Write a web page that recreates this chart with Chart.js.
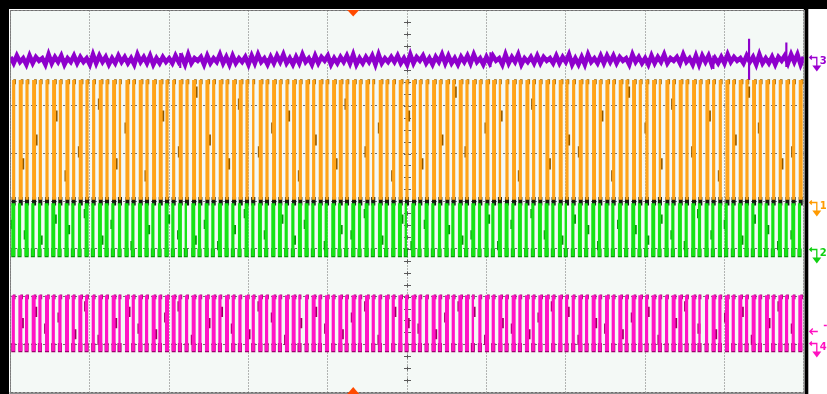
<!DOCTYPE html>
<html><head><meta charset="utf-8">
<script src="https://cdn.jsdelivr.net/npm/chart.js@4.4.1/dist/chart.umd.min.js"></script>
<style>html,body{margin:0;padding:0;background:#fff;overflow:hidden}
#wrap{position:relative;width:827px;height:394px}</style></head>
<body><div id="wrap"><canvas id="c" width="827" height="394"></canvas></div>
<script>
// Oscilloscope screen: 10 horizontal x 8 vertical divisions
const X_RANGE = [0, 10];
const Y_RANGE = [0, 8];

// Channel 3 (purple) noisy trace, digit d -> CH3_CENTER + (d-4.5)*CH3_SPAN (divisions)
const CH3_CENTER = 6.96, CH3_SPAN = 0.026;
const CH3_NOISE =
 "7283618274" + "6192738163" + "8273619283" + "7162837261" + "9372816273" +
 "6283719264" + "7182639271" + "8263718293" + "6172839261" + "7293618274" +
 "8162738291" + "6273819263" + "7382619274" + "8261739282" + "6173829361" +
 "7284619273" + "9163728274" + "6282739161" + "7193628283" + "8274619372" +
 "6182739264" + "7293618183" + "8162729374" + "6283719262" + "7174829391" + "7";
// Channel 3 glitches: [time, low, high]
const CH3_SPIKES = [[9.31, 6.55, 7.40], [8.86, 6.78, 7.05], [9.78, 6.82, 7.32], [6.05, 6.82, 7.12], [2.14, 6.80, 7.10]];

// Pulse trains: low/high level (divisions), phase (div), high width per pulse (digit x 0.01 div)
const CH1_LEVELS = [4.03, 6.54], CH1_PHASE = 0.02;
const CH1_WIDTH =
 "4545445454" + "5445453545" + "4554454545" + "4545543545" + "4454545455" + "4545354454" +
 "5445454545" + "4553454544" + "5454454545" + "4545445354" + "5454544545" + "454544545";
const CH1_MARKS =
 "0305007020" + "4008030600" + "2070040905" + "0030800406" + "0702050030" + "8004060207" +
 "0300509040" + "0607002080" + "3005040070" + "2090060308" + "0040702050" + "906003040";

const CH2_LEVELS = [2.85, 3.96], CH2_PHASE = 0.01;
const CH2_WIDTH =
 "5454455454" + "4545544545" + "5445453545" + "4554454545" + "5445545454" + "4545454553" +
 "5454454545" + "4545545445" + "5453454545" + "4545445454" + "5454545445" + "545445454";
const CH2_MARKS =
 "6040307050" + "0803060020" + "5007040306" + "0205080040" + "7030600205" + "0408030070" +
 "2060050304" + "0702060080" + "4030705020" + "0605030704" + "0208040603" + "070502040";

const CH4_LEVELS = [0.86, 2.03], CH4_PHASE = 0.015;
const CH4_WIDTH =
 "4545454454" + "5445453545" + "4545544545" + "5454454545" + "4553454545" + "4545445454" +
 "5445454553" + "4545454545" + "5454454545" + "4545545445" + "5453454545" + "454545445";
const CH4_MARKS =
 "0507040603" + "0802050704" + "0306080205" + "0704030806" + "0205070403" + "0608020705" +
 "0403060807" + "0205040306" + "0807020504" + "0306070205" + "0804030607" + "020508040";

// Right-edge channel reference markers (division level), trigger time
const MARKERS = [
  {label: "3", level: 7.02, color: "#9b00d0"},
  {label: "1", level: 3.99, color: "#ff9a00"},
  {label: "2", level: 3.00, color: "#10d010"},
  {label: "4", level: 1.03, color: "#ff10c0"}
];
const CH4_TRIG_LEVEL = 1.28;
const TRIGGER_TIME = 4.32;

// ---------- build library data ----------
function pulseLine(widths, phase, levels) {
  const n = widths.length, period = 10 / n, lo = levels[0], hi = levels[1];
  const pts = [{x: 0, y: lo}];
  for (let k = 0; k < n; k++) {
    const t = phase + k * period, w = (+widths[k]) * 0.01;
    pts.push({x: t, y: hi}, {x: t + w, y: lo});
  }
  pts.push({x: 10, y: lo});
  return pts;
}
function pulseMarks(widths, marks, phase, levels, h) {
  const n = widths.length, period = 10 / n, lo = levels[0], hi = levels[1], out = [];
  for (let k = 0; k < n; k++) {
    const d = +marks[k]; if (!d) continue;
    const t = phase + k * period, w = (+widths[k]) * 0.01;
    const y0 = lo + (hi - lo) * d / 10;
    out.push({x: (d % 2 ? t + w : t + 0.008), y: [y0 - h / 2, y0 + h / 2]});
  }
  return out;
}
function pulseEdge(widths, phase, a, b, where) {
  const n = widths.length, period = 10 / n, out = [];
  for (let k = 0; k < n; k++) {
    const t = phase + k * period, w = (+widths[k]) * 0.01;
    out.push({x: where === 'mid' ? t + w / 2 : t + w - 0.008, y: [a, b]});
  }
  return out;
}
const ch3Pts = Array.from(CH3_NOISE, (d, i) => ({x: i * 10 / (CH3_NOISE.length - 1), y: CH3_CENTER + (+d - 4.5) * CH3_SPAN}));
const ch3Spikes = CH3_SPIKES.map(s => ({x: s[0], y: [s[1], s[2]]}));

function lineDs(data, color, lo) {
  return {type: 'line', data, stepped: true, borderColor: 'rgba(0,0,0,0)', borderWidth: 1,
    backgroundColor: color, fill: {value: lo}, pointRadius: 0, tension: 0};
}
function barDs(data, color, thick) {
  return {type: 'bar', data, backgroundColor: color, barThickness: thick, grouped: false, borderWidth: 0};
}

const datasets = [
  lineDs(pulseLine(CH4_WIDTH, CH4_PHASE, CH4_LEVELS), '#ff14c4', CH4_LEVELS[0]),
  barDs(pulseEdge(CH4_WIDTH, CH4_PHASE, 0.84, 1.02, 'mid'), '#a0006c', 3.4),
  barDs(pulseEdge(CH4_WIDTH, CH4_PHASE, 1.95, 2.04, 'top'), '#b0007a', 2),
  barDs(pulseMarks(CH4_WIDTH, CH4_MARKS, CH4_PHASE, CH4_LEVELS, 0.2), '#96005e', 2.4),

  lineDs(pulseLine(CH2_WIDTH, CH2_PHASE, CH2_LEVELS), '#16e416', CH2_LEVELS[0]),
  barDs(pulseEdge(CH2_WIDTH, CH2_PHASE, 2.83, 3.0, 'mid'), '#079507', 3.4),
  barDs(pulseMarks(CH2_WIDTH, CH2_MARKS, CH2_PHASE, CH2_LEVELS, 0.18), '#0a8a0a', 2.4),

  lineDs(pulseLine(CH1_WIDTH, CH1_PHASE, CH1_LEVELS), '#ffa31a', CH1_LEVELS[0]),
  barDs(pulseEdge(CH1_WIDTH, CH1_PHASE, 6.46, 6.55, 'top'), '#9a6200', 2),
  barDs(pulseMarks(CH1_WIDTH, CH1_MARKS, CH1_PHASE, CH1_LEVELS, 0.22), '#8a5600', 2.4),
  barDs(pulseEdge(CH1_WIDTH, CH1_PHASE, 3.92, 4.08, 'mid'), '#141a10', 3.4),

  {type: 'line', data: ch3Pts, borderColor: '#8e00cc', borderWidth: 4.6, pointRadius: 0, tension: 0, fill: false},
  {type: 'line', data: ch3Pts, borderColor: 'rgba(80,0,120,0.45)', borderWidth: 1, pointRadius: 0, tension: 0, fill: false},
  barDs(ch3Spikes, '#8e00cc', 1.5)
];

// ---------- screen decoration plugin ----------
const screen = {
  id: 'screen',
  beforeDraw(chart) {
    const c = chart.ctx, a = chart.chartArea, W = chart.width, H = chart.height;
    c.save();
    c.fillStyle = '#ffffff'; c.fillRect(0, 0, W, H);
    c.fillStyle = '#f4f9f6'; c.fillRect(a.left, a.top, a.right - a.left, a.bottom - a.top);
    c.fillStyle = '#000'; c.fillRect(0, 0, W, a.top - 1.5); c.fillRect(0, 0, a.left - 1.5, H);
    c.fillRect(a.right, 0, 4.5, H);
    c.fillStyle = '#a0a0a0'; c.fillRect(a.left - 1, a.bottom, a.right - a.left + 1, H - a.bottom);
    c.strokeStyle = '#8a8a8a'; c.lineWidth = 1;
    c.strokeRect(Math.round(a.left) - 0.5, Math.round(a.top) - 0.5, Math.round(a.right - a.left) + 1, Math.round(a.bottom - a.top) + 1);
    c.restore();
  },
  beforeDatasetsDraw(chart) {
    const c = chart.ctx, xs = chart.scales.x, ys = chart.scales.y;
    const cx = Math.round(xs.getPixelForValue(5)) + 0.5;
    c.save(); c.strokeStyle = '#5a5a5a'; c.lineWidth = 1; c.beginPath();
    for (let i = 1; i < 32; i++) {
      const py = Math.round(ys.getPixelForValue(i * 0.25)) + 0.5;
      c.moveTo(cx - 3.5, py); c.lineTo(cx + 3.5, py);
      if (i % 4) { c.moveTo(cx, py - 2); c.lineTo(cx, py + 2); }
    }
    c.stroke(); c.restore();
  },
  afterDraw(chart) {
    const c = chart.ctx, xs = chart.scales.x, ys = chart.scales.y, a = chart.chartArea;
    c.save();
    const tx = xs.getPixelForValue(TRIGGER_TIME);
    c.fillStyle = '#ff4a00';
    c.beginPath(); c.moveTo(tx - 6, a.top - 0.5); c.lineTo(tx + 6, a.top - 0.5); c.lineTo(tx, a.top + 6); c.closePath(); c.fill();
    c.beginPath(); c.moveTo(tx - 6, chart.height); c.lineTo(tx + 6, chart.height); c.lineTo(tx, chart.height - 7); c.closePath(); c.fill();
    const x0 = a.right + 6;
    c.lineWidth = 1.3; c.font = 'bold 10px "DejaVu Sans"'; c.textBaseline = 'middle';
    MARKERS.forEach(m => {
      const y = Math.round(ys.getPixelForValue(m.level)) + 0.5;
      c.strokeStyle = m.color; c.fillStyle = m.color;
      c.beginPath();
      c.moveTo(x0 + 2, y - 2); c.lineTo(x0, y); c.lineTo(x0 + 2, y + 2);
      c.moveTo(x0, y); c.lineTo(x0 + 7, y); c.lineTo(x0 + 7, y + 9);
      c.stroke();
      c.beginPath(); c.moveTo(x0 + 2.5, y + 8); c.lineTo(x0 + 11.5, y + 8); c.lineTo(x0 + 7, y + 14); c.closePath(); c.fill();
      c.fillText(m.label, x0 + 10, y + 4);
    });
    const yt = Math.round(ys.getPixelForValue(CH4_TRIG_LEVEL)) + 0.5;
    c.strokeStyle = '#ff10c0';
    c.beginPath(); c.moveTo(x0 + 8, yt); c.lineTo(x0, yt); c.moveTo(x0 + 3, yt - 3); c.lineTo(x0, yt); c.lineTo(x0 + 3, yt + 3);
    c.moveTo(x0 + 14, yt - 6); c.lineTo(x0 + 17, yt - 6);
    c.stroke();
    c.restore();
  }
};

new Chart(document.getElementById('c'), {
  type: 'line',
  data: {datasets},
  options: {
    responsive: false, animation: false, events: [],
    layout: {padding: {left: 10.5, top: 10.5, right: 23.2, bottom: 2}},
    plugins: {legend: {display: false}, tooltip: {enabled: false}, title: {display: false}},
    scales: {
      x: {type: 'linear', min: X_RANGE[0], max: X_RANGE[1], offset: false,
          ticks: {display: false, stepSize: 1},
          grid: {color: '#6e6e6e', lineWidth: 1, drawTicks: false, offset: false},
          border: {display: false, dash: [1, 2]}},
      y: {type: 'linear', min: Y_RANGE[0], max: Y_RANGE[1],
          ticks: {display: false, stepSize: 1},
          grid: {color: '#6e6e6e', lineWidth: 1, drawTicks: false},
          border: {display: false, dash: [2, 2]}}
    }
  },
  plugins: [screen]
});
</script></body></html>
